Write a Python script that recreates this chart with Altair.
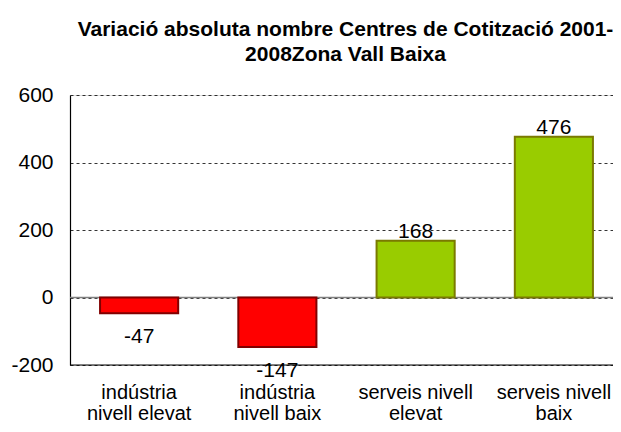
import altair as alt
import pandas as pd

categories = ["indústria|nivell elevat", "indústria|nivell baix", "serveis nivell|elevat", "serveis nivell|baix"]
values = [-47, -147, 168, 476]
value_labels = ["-47", "-147", "168", "476"]
groups = ["neg", "neg", "pos", "pos"]
y_ticks = [-200, 0, 200, 400, 600]
title_lines = ["Variació absoluta nombre Centres de Cotització 2001-", "2008Zona Vall Baixa"]

df = pd.DataFrame({"cat": categories, "val": values, "lab": value_labels, "grp": groups})

FONT = "Liberation Sans"

x_scale = alt.Scale(paddingInner=0.435, paddingOuter=0.2175, range=[0, 553])
x_enc = alt.X("cat:N", sort=categories, title=None, scale=x_scale,
              axis=alt.Axis(labelExpr="split(datum.label, '|')", labelAngle=0,
                            labelFontSize=20, labelFont=FONT, labelColor="black",
                            labelPadding=17, labelLineHeight=21,
                            ticks=False, tickSize=0, domain=False))
y_enc = alt.Y("val:Q", title=None,
              scale=alt.Scale(domain=[-200, 600], nice=False, zero=False),
              axis=alt.Axis(values=y_ticks, labelExpr="'' + datum.value",
                            labelFontSize=21, labelFont=FONT,
                            labelColor="black", labelPadding=17, ticks=False, tickSize=0,
                            domainColor="black", domainWidth=1.2,
                            grid=True, gridColor="black", gridDash=[3, 3], gridWidth=0.8))

bars = alt.Chart(df).mark_bar(strokeWidth=2).encode(
    x=x_enc, y=y_enc,
    fill=alt.Fill("grp:N", scale=alt.Scale(domain=["neg", "pos"], range=["#FF0000", "#99CC00"]), legend=None),
    stroke=alt.Stroke("grp:N", scale=alt.Scale(domain=["neg", "pos"], range=["#800000", "#7A7A00"]), legend=None),
)

zero = alt.Chart(pd.DataFrame({"z": [0]})).mark_rule(color="#808080", strokeWidth=1.5).encode(y="z:Q")
bottom = alt.Chart(pd.DataFrame({"z": [-200]})).mark_rule(color="black", strokeWidth=1.2).encode(y="z:Q")

neg_text = alt.Chart(df).transform_filter("datum.val < 0").mark_text(
    font=FONT, fontSize=21, color="black", baseline="alphabetic", dy=30
).encode(x=alt.X("cat:N", sort=categories, scale=x_scale), y="val:Q", text="lab:N")
pos_text = alt.Chart(df).transform_filter("datum.val >= 0").mark_text(
    font=FONT, fontSize=21, color="black", baseline="alphabetic", dy=-3
).encode(x=alt.X("cat:N", sort=categories, scale=x_scale), y="val:Q", text="lab:N")

chart = alt.layer(zero, bars, bottom, neg_text, pos_text).properties(
    width=543, height=270,
    title=alt.TitleParams(title_lines, font=FONT, fontSize=21, fontWeight="bold",
                          color="black", anchor="middle", lineHeight=25, offset=19,
                          dx=4),
    padding={"left": 62, "top": 87, "right": 0, "bottom": 59},
    autosize=alt.AutoSizeParams(type="none"),
).configure_view(stroke=None).configure(background="white")

chart.save("out.html", embed_options={"renderer": "svg", "actions": False})
